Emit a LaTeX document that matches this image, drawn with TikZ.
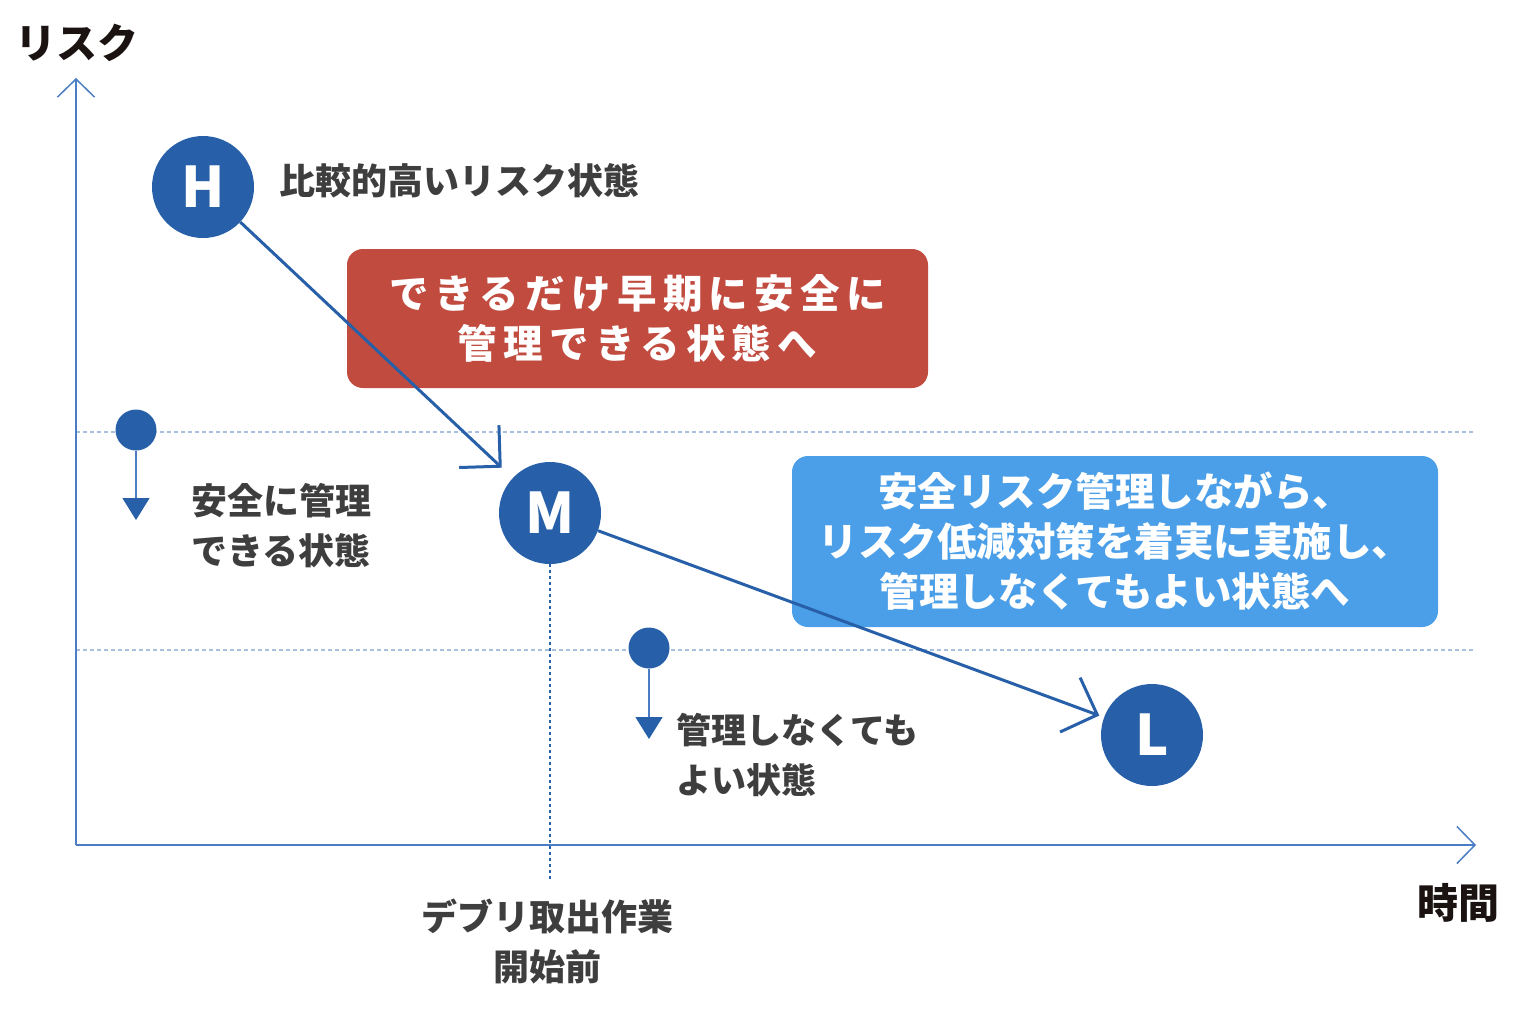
\documentclass[tikz,border=0pt]{standalone}
\usepackage{fontspec}
\setmainfont{Noto Sans CJK JP}
\usetikzlibrary{arrows.meta}
\definecolor{cblue}{HTML}{2760A8}
\definecolor{axisblue}{HTML}{4A7DC4}
\definecolor{dotblue}{HTML}{A8C0DE}
\definecolor{boxred}{HTML}{C24B3F}
\definecolor{boxblue}{HTML}{4A9FE8}
\definecolor{labelgray}{HTML}{3E3E3E}
\definecolor{axislabel}{HTML}{1A1311}
\tikzset{
  bigcirc/.style={circle, fill=cblue, minimum size=102pt, inner sep=0pt, text=white, font=\fontsize{56}{60}\selectfont\bfseries},
  smallcirc/.style={circle, fill=cblue, minimum size=41pt, inner sep=0pt},
  lbl/.style={text=labelgray, font=\fontsize{36}{50}\selectfont\bfseries, align=left, inner sep=0pt},
  axlbl/.style={text=axislabel, font=\fontsize{41}{50}\selectfont\bfseries, inner sep=0pt},
  axisline/.style={draw=axisblue, line width=1.5pt, -{Straight Barb[length=18pt,width=37pt,line width=1.5pt]}},
  gridline/.style={draw=dotblue, line width=1.3pt, dash pattern=on 4pt off 3pt},
  mainarrow/.style={draw=cblue, line width=3pt, -{Straight Barb[length=29pt,width=58pt,line width=3pt]}},
  droparrow/.style={draw=axisblue, line width=1.5pt, -{Triangle[length=22pt,width=27pt,color=cblue]}},
  redbox/.style={rounded corners=16pt, fill=boxred, minimum width=581pt, minimum height=139pt, text=white, align=center, inner sep=0pt, font=\fontsize{39.5}{50}\selectfont\bfseries\addfontfeatures{LetterSpace=16}},
  bluebox/.style={rounded corners=16pt, fill=boxblue, minimum width=646pt, minimum height=171pt, text=white, align=center, inner sep=0pt, font=\fontsize{39.5}{50}\selectfont\bfseries}
}
\begin{document}
\begin{tikzpicture}[x=1pt,y=-1pt]
\useasboundingbox (0,0) rectangle (1526,1018);
% grid lines
\coordinate (g1a) at (76,432);
\coordinate (g1b) at (1475,432);
\coordinate (g2a) at (76,650);
\coordinate (g2b) at (1475,650);
\draw[gridline] (g1a) -- (g1b);
\draw[gridline] (g2a) -- (g2b);
% axes
\coordinate (O) at (76,845);
\coordinate (ytop) at (76,78);
\coordinate (xend) at (1476,845);
\draw[axisline] (O) -- (ytop);
\draw[axisline] (O) -- (xend);
\node[axlbl] (ylab) at (77,43) {リスク};
\node[axlbl] (xlab) at (1458,903) {時間};
% boxes
\node[redbox] (rb) at (637.5,318.5) {できるだけ早期に安全に\\管理できる状態へ};
\node[bluebox] (bb) at (1115,541.5) {安全リスク管理しながら、\\リスク低減対策を着実に実施し、\\管理しなくてもよい状態へ};
% main circles
\node[bigcirc] (H) at (203,187) {H};
\node[bigcirc] (M) at (550,513) {M};
\node[bigcirc] (L) at (1152,735) {L};
\draw[mainarrow, shorten >=15pt] (H) -- (M);
\draw[mainarrow, shorten >=5pt] (M) -- (L);
% vertical dotted under M
\coordinate (mbot) at (550,880);
\draw[draw=cblue, line width=1.5pt, dash pattern=on 3pt off 3pt] (M.south) -- (mbot);
% labels
\node[lbl, anchor=west] (hl) at (279,181) {比較的高いリスク状態};
\node[lbl, anchor=north west] (sl) at (191,483) {安全に管理\\できる状態};
\node[lbl, anchor=north west, font=\fontsize{35}{50}\selectfont\bfseries] (nl) at (676,713) {管理しなくても\\よい状態};
\node[lbl, align=center] (dl) at (547,941) {デブリ取出作業\\開始前};
% small circles with drop arrows
\node[smallcirc] (s1) at (136,430) {};
\coordinate (t1) at (136,520);
\draw[droparrow] (s1) -- (t1);
\node[smallcirc] (s2) at (649,648) {};
\coordinate (t2) at (649,739);
\draw[droparrow] (s2) -- (t2);
\end{tikzpicture}
\end{document}
